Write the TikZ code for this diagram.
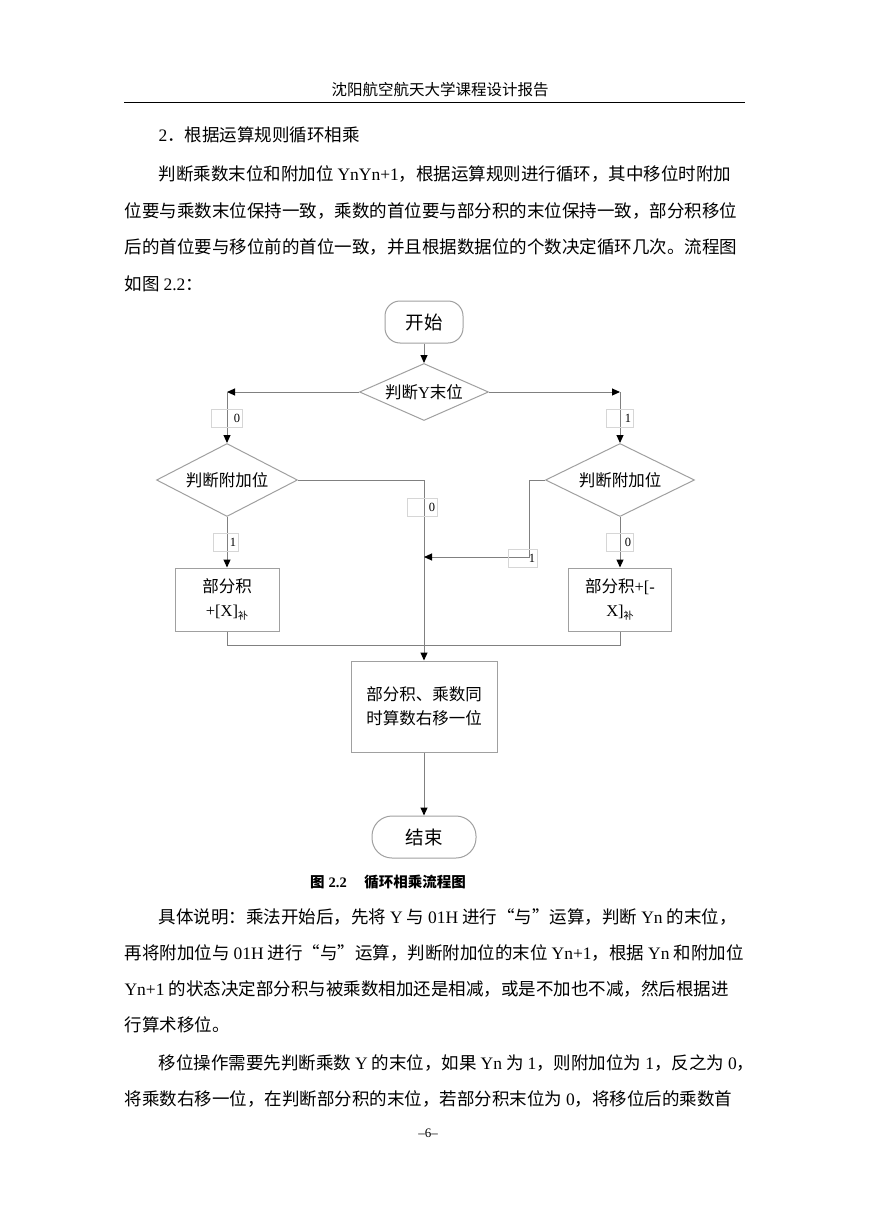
\documentclass[tikz,border=0pt]{standalone}
\usepackage{fontspec}
\setmainfont{Noto Sans CJK SC}
\newfontfamily\lat{Liberation Serif}
\usetikzlibrary{arrows.meta,positioning,shapes.geometric}
\definecolor{EdgeGray}{HTML}{A0A0A0}
\definecolor{LineGray}{HTML}{808080}
\definecolor{TagGray}{HTML}{D6D6D6}
\XeTeXlinebreaklocale "zh"
\XeTeXlinebreakskip=0pt plus 6pt
\newcommand{\bu}{\raisebox{-3pt}{\fontsize{10}{10}\selectfont 补}}
\newcommand{\gap}{\hspace{4pt}}

\begin{document}
\begin{tikzpicture}[x=1pt,y=-1pt,line width=1pt,
    term/.style={draw=EdgeGray,minimum height=42pt,font=\fontsize{18.5}{22}\selectfont},
    decide/.style={draw=EdgeGray,diamond,aspect=2,inner sep=0pt,font=\fontsize{16.5}{20}\selectfont},
    proc/.style={draw=EdgeGray,align=center,inner sep=0pt,font=\fontsize{16.5}{24}\selectfont},
    tag/.style={draw=TagGray,inner xsep=2pt,inner ysep=0pt,align=right,minimum height=18pt,
                font=\lat\fontsize{12.5}{14}\selectfont},
    arr/.style={LineGray,-{Triangle[length=8pt,width=7pt,color=black,fill=black]}},
    wire/.style={LineGray},
    body/.style={anchor=base west,inner sep=0pt,font=\fontsize{17.5}{20}\selectfont}]
  \fill[white] (0,0) rectangle (869,1228);
  \useasboundingbox (0,0) rectangle (869,1228);

  % header
  \node[inner sep=0pt,font=\fontsize{15.5}{18}\selectfont] (head) at (440,90) {沈阳航空航天大学课程设计报告};
  \draw[black] (124,103) -- (745,103);

  % text above the chart
  \node[body] (h1) at (158,141) {{\lat 2}．根据运算规则循环相乘};
  \node[body] (p1) at (158,180) {\makebox[587pt][s]{判断乘数末位和附加位\gap{\lat YnYn+1}，根据运算规则进行循环，其中移位时附加}};
  \node[body] (p2) at (124,217) {\makebox[621pt][s]{位要与乘数末位保持一致，乘数的首位要与部分积的末位保持一致，部分积移位}};
  \node[body] (p3) at (124,253) {\makebox[621pt][s]{后的首位要与移位前的首位一致，并且根据数据位的个数决定循环几次。流程图}};
  \node[body] (p4) at (124,290) {如图\gap{\lat 2.2}：};

  % chart
  \node[term,minimum width=78pt,rounded corners=15pt] (start) at (424,322) {开始};
  \node[decide,minimum width=129pt,minimum height=57pt] (chkY) at (424,392) {判断{\lat Y}末位};
  \node[decide,minimum width=141pt,minimum height=73pt] (chkL) at (227,480) {判断附加位};
  \node[decide,minimum width=149pt,minimum height=73pt] (chkR) at (620,480) {判断附加位};
  \node[proc,minimum width=104pt,minimum height=63pt] (addX) at (227,599.5) {部分积\\{\lat +[X]}\bu};
  \node[proc,minimum width=103pt,minimum height=63pt] (subX) at (620,599.5) {部分积{\lat +[-}\\{\lat X]}\bu};
  \node[proc,minimum width=146pt,minimum height=91pt] (shift) at (424,706.5) {部分积、乘数同\\时算数右移一位};
  \node[term,minimum width=104pt,rounded corners=20pt] (stop) at (424,837) {结束};

  \coordinate (yl) at (227,392);
  \coordinate (yr) at (620,392);
  \coordinate (jn) at (424,557);

  \draw[arr] (start) -- (chkY);
  \draw[arr] (chkY.west) -- (yl);
  \draw[arr] (yl) -- (chkL.north);
  \draw[arr] (chkY.east) -- (yr);
  \draw[arr] (yr) -- (chkR.north);
  \draw[arr] (chkL.south) -- (addX.north);
  \draw[arr] (chkR.south) -- (subX.north);
  \draw[arr] (chkL.east) -| (shift.north);
  \draw[arr] (chkR.west) -- ++(-16,0) |- (jn);
  \draw[wire] (addX.south) -- ++(0,14) -| (subX.south);
  \draw[arr] (shift.south) -- (stop.north);

  % branch labels
  \node[tag,text width=27pt] (t1) at (226.5,418) {0};
  \node[tag,text width=23pt] (t2) at (619.5,418) {1};
  \node[tag,text width=26pt] (t3) at (422,507.5) {0};
  \node[tag,text width=21pt] (t4) at (225.5,542.5) {1};
  \node[tag,text width=25pt] (t5) at (522.5,558) {1};
  \node[tag,text width=23pt] (t6) at (619.5,542) {0};

  % caption
  \node[inner sep=0pt,font=\bfseries\fontsize{14.5}{18}\selectfont] (cap) at (388,882)
    {图\gap{\lat\bfseries 2.2}\hspace{1.2em}循环相乘流程图};

  % text below the chart
  \node[body] (q1) at (158,923) {\makebox[587pt][s]{具体说明：乘法开始后，先将\gap{\lat Y}\gap 与\gap{\lat 01H}\gap 进行“与”运算，判断\gap{\lat Yn}\gap 的末位，}};
  \node[body] (q2) at (124,959) {\makebox[621pt][s]{再将附加位与\gap{\lat 01H}\gap 进行“与”运算，判断附加位的末位\gap{\lat Yn+1}，根据\gap{\lat Yn}\gap 和附加位}};
  \node[body] (q3) at (124,995) {\makebox[621pt][s]{{\lat Yn+1}\gap 的状态决定部分积与被乘数相加还是相减，或是不加也不减，然后根据进}};
  \node[body] (q4) at (124,1031) {行算术移位。};
  \node[body] (q5) at (158,1069) {\makebox[587pt][s]{移位操作需要先判断乘数\gap{\lat Y}\gap 的末位，如果\gap{\lat Yn}\gap 为\gap{\lat 1}，则附加位为\gap{\lat 1}，反之为\gap{\lat 0}，}};
  \node[body] (q6) at (124,1105) {\makebox[621pt][s]{将乘数右移一位，在判断部分积的末位，若部分积末位为\gap{\lat 0}，将移位后的乘数首}};

  % page number
  \node[inner sep=0pt,font=\lat\fontsize{13}{14}\selectfont] (pg) at (428,1133) {–6–};
\end{tikzpicture}
\end{document}
